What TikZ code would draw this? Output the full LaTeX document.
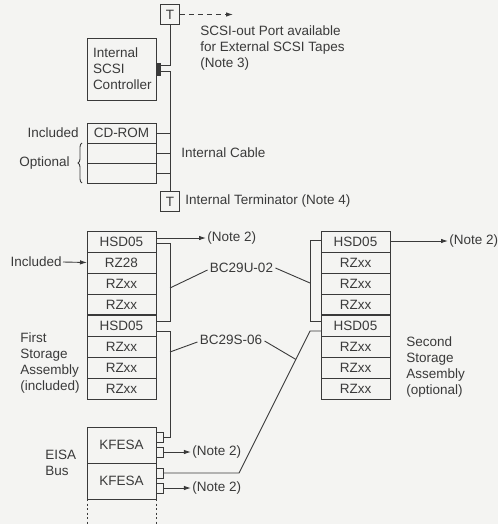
\documentclass[tikz,border=0pt]{standalone}
\usepackage{fontspec}
\setmainfont{Liberation Sans}
\usepackage{xcolor}
\definecolor{paper}{HTML}{F4F4F2}
\definecolor{ink}{HTML}{3A3A3A}
\usepackage{tikz}
\usetikzlibrary{positioning, arrows.meta, calc, decorations.pathreplacing}

\begin{document}
\begin{tikzpicture}[x=1pt, y=-1pt, line width=0.9pt, color=ink,
  font=\fontsize{13.5}{16}\selectfont,
  drivebox/.style={draw, minimum width=69pt, minimum height=21pt, inner sep=0pt, outer sep=0pt},
  termbox/.style={draw, minimum width=19pt, minimum height=20pt, inner sep=0pt},
  portbox/.style={draw, fill=paper, minimum width=7pt, minimum height=10pt, inner sep=0pt, anchor=west},
  lbl/.style={inner sep=1pt, align=left},
  arr/.style={-{Latex[length=7pt, width=4.5pt]}}]
  \useasboundingbox (0,0) rectangle (498,524);
  \fill[paper] (0,0) rectangle (498,524);

  % controller and SCSI-out
  \node[termbox] (tT) at (170,14.5) {T};
  \node[draw, minimum width=69pt, minimum height=62pt, inner xsep=6pt,
        text width=57pt, align=left] (ctrl) at (121.5,69) {Internal\\SCSI\\Controller};
  \node[fill=ink, minimum width=5pt, minimum height=13pt, inner sep=0pt] (conn) at (158.5,69.5) {};
  \node[lbl, anchor=west] (scsiout) at (199,48)
        {SCSI-out Port available\\for External SCSI Tapes\\(Note 3)};
  \coordinate (outend) at (233,14.5);
  \draw[arr, dash pattern=on 5pt off 4pt] (tT.east) -- (outend);

  % internal drives
  \node[drivebox, minimum height=20pt] (cd) at (121.5,133) {CD-ROM};
  \node[drivebox, minimum height=20pt, below=0pt of cd] (optA) {};
  \node[drivebox, minimum height=20pt, below=0pt of optA] (optB) {};
  \node[lbl, anchor=east] (incA) at (80,133) {Included};
  \node[lbl, anchor=east] (optl) at (71,163) {Optional};
  \draw[decorate, decoration={brace, amplitude=4pt}]
        ([xshift=-5pt]optB.south west) -- ([xshift=-5pt]optA.north west);

  % internal cable
  \node[termbox] (tB) at (170,201.5) {T};
  \node[lbl, anchor=west] (cablel) at (180,153) {Internal Cable};
  \node[lbl, right=4pt of tB] (terml) {Internal Terminator (Note 4)};
  \coordinate (busA) at (170,65);
  \coordinate (busB) at (170,71);
  \draw (tT.south) -- (busA) -- (busA -| conn.east);
  \draw (busB -| conn.east) -- (busB) -- (tB.north);
  \foreach \d in {cd, optA, optB}
    \draw (\d.east) -- (\d.east -| busB);

  % first storage assembly
  \node[drivebox] (hA) at (121.5,241.5) {HSD05};
  \node[drivebox, below=0pt of hA] (rA1) {RZ28};
  \node[drivebox, below=0pt of rA1] (rA2) {RZxx};
  \node[drivebox, below=0pt of rA2] (rA3) {RZxx};
  \node[drivebox, below=0pt of rA3] (hB) {HSD05};
  \node[drivebox, below=0pt of hB] (rB1) {RZxx};
  \node[drivebox, below=0pt of rB1] (rB2) {RZxx};
  \node[drivebox, below=0pt of rB2] (rB3) {RZxx};
  \draw[line width=2pt] (rA3.south west) -- (rA3.south east);
  \node[lbl, anchor=east] (incB) at (63,262) {Included};
  \draw[arr] (incB.east) -- (rA1.west);
  \node[lbl, anchor=west] (firstl) at (19,363.5) {First\\Storage\\Assembly\\(included)};

  % second storage assembly
  \node[drivebox, right=165pt of hA] (hC) {HSD05};
  \node[drivebox, below=0pt of hC] (rC1) {RZxx};
  \node[drivebox, below=0pt of rC1] (rC2) {RZxx};
  \node[drivebox, below=0pt of rC2] (rC3) {RZxx};
  \node[drivebox, below=0pt of rC3] (hD) {HSD05};
  \node[drivebox, below=0pt of hD] (rD1) {RZxx};
  \node[drivebox, below=0pt of rD1] (rD2) {RZxx};
  \node[drivebox, below=0pt of rD2] (rD3) {RZxx};
  \draw[line width=2pt] (rC3.south west) -- (rC3.south east);
  \node[lbl, right=15pt of rD2] (secondl) {Second\\Storage\\Assembly\\(optional)};

  \node[lbl, anchor=west] (nA) at (206,238) {(Note 2)};
  \draw[arr] ([yshift=3.5pt]hA.east) -- (nA.west);
  \node[lbl, anchor=west] (nC) at (448,241) {(Note 2)};
  \draw[arr] ([yshift=0.5pt]hC.east) -- (nC.west);

  % EISA adapters
  \node[drivebox, minimum height=36pt] (kA) at (121.5,445) {KFESA};
  \node[drivebox, minimum height=36pt, below=0pt of kA] (kB) {KFESA};
  \node[portbox] (pA) at ([yshift=8pt]kA.east) {};
  \node[portbox] (pB) at ([yshift=-7pt]kA.east) {};
  \node[portbox] (pC) at ([yshift=8pt]kB.east) {};
  \node[portbox] (pD) at ([yshift=-7pt]kB.east) {};
  \node[lbl, right=27pt of pB] (nB) {(Note 2)};
  \node[lbl, right=27pt of pD] (nD) {(Note 2)};
  \draw[arr] (pB.east) -- (nB.west);
  \draw[arr] (pD.east) -- (nD.west);
  \node[lbl, anchor=west] (eisa) at (44,462.5) {EISA\\Bus};
  \coordinate (bot) at (0,524);
  \draw[dash pattern=on 2pt off 2.5pt] (kB.south west) -- (kB.south west |- bot);
  \draw[dash pattern=on 2pt off 2.5pt] (kB.south east) -- (kB.south east |- bot);

  % storage cables
  \coordinate (uA) at ([yshift=-2pt]hA.east);
  \coordinate (uB) at ([yshift=4.5pt]hB.east);
  \draw (uA) -- (uA -| busB) |- (uB);
  \coordinate (sA) at ([yshift=-5.5pt]hB.east);
  \draw (sA) -- (sA -| busB) |- (pA.east);
  \coordinate (rbus) at (310,0);
  \coordinate (uC) at ([yshift=1.5pt]hC.west);
  \coordinate (uD) at ([yshift=4.5pt]hD.west);
  \draw (uC) -- (uC -| rbus) |- (uD);
  \coordinate (sD) at ([yshift=-5.5pt]hD.west);
  \coordinate (kinkx) at (239,0);
  \coordinate (bendR) at (sD -| rbus);
  \coordinate (kinkR) at (pC.east -| kinkx);
  \draw (sD) -- (bendR) -- (kinkR) -- (pC.east);

  % cable labels
  \node[lbl, inner sep=2pt] (bcU) at (241.5,268) {BC29U-02};
  \coordinate (lU) at (170,288);
  \coordinate (rU) at (310,283);
  \draw ([yshift=-2pt]bcU.west) -- (lU);
  \draw (bcU.east) -- (rU);
  \node[lbl, inner sep=2pt] (bcS) at (231,340) {BC29S-06};
  \coordinate (lS) at (170,352);
  \coordinate (rS) at ($(bendR)!0.2!(kinkR)$);
  \draw ([yshift=-2pt]bcS.west) -- (lS);
  \draw ([yshift=-1pt]bcS.east) -- (rS);
\end{tikzpicture}
\end{document}
